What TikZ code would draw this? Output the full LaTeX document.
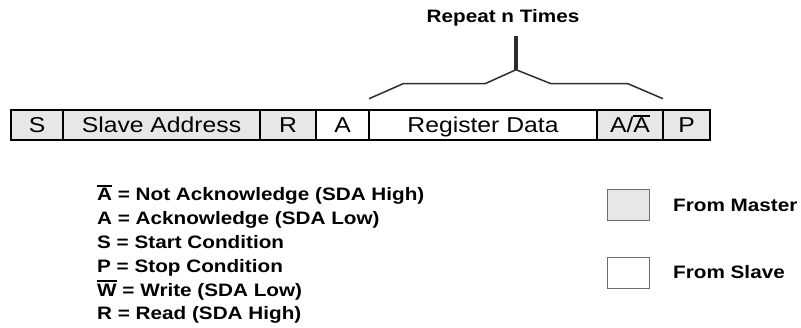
\documentclass[tikz,border=0pt]{standalone}
\usepackage{fontspec}
\setmainfont[FakeStretch=1.15]{Liberation Sans}
\usepackage{tikz}
\usetikzlibrary{positioning,calc}

\definecolor{mastergray}{RGB}{230,231,232}
\definecolor{braceline}{RGB}{45,45,45}
\definecolor{boxline}{RGB}{110,110,110}

\newcommand{\ovl}[1]{\vbox{\hrule height 1.8pt\kern 1.6pt\hbox{#1}}}

\begin{document}
\begin{tikzpicture}[
        x=1pt, y=1pt,
        declare function={
            BarX=11;
            BarY=202.75;
            LegX=97;
            LegY=127;
            LegStep=23.8;
        },
        cell/.style={draw, line width=2pt, minimum height=30pt, inner sep=0pt, outer sep=0pt,
            text height=15.4pt, text depth=0pt, font=\fontsize{21.5}{26}\selectfont},
        master/.style={cell, fill=mastergray},
        slave/.style={cell, fill=white},
        legend/.style={anchor=base west, inner sep=0pt, font=\fontsize{18}{22}\selectfont\bfseries},
        keybox/.style={draw=boxline, line width=1.3pt, minimum width=42pt, minimum height=31pt, inner sep=0pt},
        brace/.style={draw=braceline, line width=1.5pt, line join=round},
        stem/.style={draw=braceline, line width=3.5pt},
    ]
        \useasboundingbox (0,0) rectangle (801,328);
        
        \node[master, minimum width=52pt, anchor=west] (start) at (BarX, BarY) {S};
        \node[master, minimum width=197pt, right=0pt of start] (address) {Slave Address};
        \node[master, minimum width=56pt, right=0pt of address] (read) {R};
        \node[slave, minimum width=53pt, right=0pt of read] (ack) {A};
        \node[slave, minimum width=228pt, right=0pt of ack] (data) {Register Data};
        \node[master, minimum width=66pt, right=0pt of data] (nack) {A/\ovl{A}};
        \node[master, minimum width=47pt, right=0pt of nack] (stop) {P};
        
        \coordinate (braceL) at ([yshift=11.5pt]data.north west);
        \coordinate (braceR) at ([yshift=11.5pt]nack.north east);
        \coordinate (peak) at ($(braceL)!0.5!(braceR)+(0,29)$);
        \draw[brace] (braceL) -- ++(34,15) -- ($(peak)+(-31,-14)$) -- (peak)
            -- ($(peak)+(35,-14)$) -- ($(braceR)+(-35,15)$) -- (braceR);
        \draw[stem] (peak) -- ++(0,34);
        \node[legend, anchor=base] (repeat) at (503,305) {Repeat n Times};
        
        \node[legend] (nackkey) at (LegX, LegY) {\ovl{A} = Not Acknowledge (SDA High)};
        \node[legend] (ackkey) at (LegX, LegY-LegStep) {A = Acknowledge (SDA Low)};
        \node[legend] (startkey) at (LegX, LegY-2*LegStep) {S = Start Condition};
        \node[legend] (stopkey) at (LegX, LegY-3*LegStep) {P = Stop Condition};
        \node[legend] (writekey) at (LegX, LegY-4*LegStep) {\ovl{W} = Write (SDA Low)};
        \node[legend] (readkey) at (LegX, LegY-5*LegStep) {R = Read (SDA High)};
        
        \node[keybox, fill=mastergray] (masterbox) at (628.5, 123) {};
        \node[legend] (mastertext) at (673, 116.5) {From Master};
        \node[keybox, fill=white] (slavebox) at (628.5, 55) {};
        \node[legend] (slavetext) at (673, 49) {From Slave};
    \end{tikzpicture}
\end{document}
